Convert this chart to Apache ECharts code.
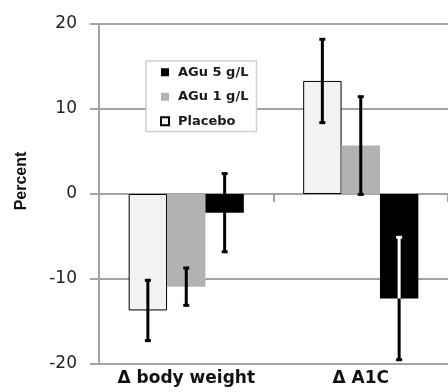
<!DOCTYPE html>
<html>
<head>
<meta charset="utf-8">
<script src="https://cdn.jsdelivr.net/npm/echarts@6/dist/echarts.min.js"></script>
<style>html,body{margin:0;padding:0;background:#fff;}#c{width:448px;height:392px;}</style>
</head>
<body>
<div id="c"></div>
<script>
var categories = ['\u0394 body weight', '\u0394 A1C'];
var seriesNames = ['Placebo', 'AGu 1 g/L', 'AGu 5 g/L'];
var placeboValues = [-13.7, 13.3];
var placeboErrors = [3.55, 4.9];
var agu1Values = [-10.9, 5.7];
var agu1Errors = [2.2, 5.75];
var agu5Values = [-2.2, -12.3];
var agu5Errors = [4.6, 7.2];
var yTicks = [-20, -10, 0, 10, 20];

var values = [placeboValues, agu1Values, agu5Values];
var errors = [placeboErrors, agu1Errors, agu5Errors];
var colors = ['#f2f2f2', '#b2b2b2', '#000000'];
var gray = '#a3a3a3';
var CAT_GAP = 0.34;

var chart = echarts.init(document.getElementById('c'), null, {renderer: 'canvas'});

function makeErr(si) {
  var data = categories.map(function (c, i) {
    return [i, values[si][i] - errors[si][i], values[si][i] + errors[si][i], values[si][i]];
  });
  return {
    type: 'custom',
    name: seriesNames[si] + ' err',
    xAxisIndex: 0,
    yAxisIndex: 0,
    z: 5,
    silent: true,
    tooltip: {show: false},
    data: data,
    renderItem: function (params, api) {
      var ci = api.value(0), lo = api.value(1), hi = api.value(2), v = api.value(3);
      var center = api.coord([ci, 0]);
      var catW = api.size([1, 0])[0];
      var barW = catW * (1 - CAT_GAP) / 3;
      var x = center[0] + (si - 1) * barW;
      var pLo = api.coord([ci, lo])[1];
      var pHi = api.coord([ci, hi])[1];
      var pV = api.coord([ci, v])[1];
      var cap = 3;
      var lw = 3;
      var children = [];
      var black = '#000';
      var innerWhite = (si === 2) && ((v < 0 && hi < 0) || (v > 0 && lo > 0));
      if (innerWhite) {
        var innerEnd = v < 0 ? pHi : pLo;
        var outerEnd = v < 0 ? pLo : pHi;
        children.push({type: 'line', shape: {x1: x, y1: innerEnd, x2: x, y2: pV}, style: {stroke: '#fff', lineWidth: lw}});
        children.push({type: 'line', shape: {x1: x - cap, y1: innerEnd, x2: x + cap, y2: innerEnd}, style: {stroke: '#fff', lineWidth: lw}});
        children.push({type: 'line', shape: {x1: x, y1: pV, x2: x, y2: outerEnd}, style: {stroke: black, lineWidth: lw}});
        children.push({type: 'line', shape: {x1: x - cap, y1: outerEnd, x2: x + cap, y2: outerEnd}, style: {stroke: black, lineWidth: lw}});
      } else {
        children.push({type: 'line', shape: {x1: x, y1: pHi, x2: x, y2: pLo}, style: {stroke: black, lineWidth: lw}});
        children.push({type: 'line', shape: {x1: x - cap, y1: pHi, x2: x + cap, y2: pHi}, style: {stroke: black, lineWidth: lw}});
        children.push({type: 'line', shape: {x1: x - cap, y1: pLo, x2: x + cap, y2: pLo}, style: {stroke: black, lineWidth: lw}});
      }
      return {type: 'group', children: children};
    }
  };
}

var series = [];
for (var s = 0; s < 3; s++) {
  series.push({
    type: 'bar',
    name: seriesNames[s],
    xAxisIndex: 0,
    yAxisIndex: 0,
    data: values[s],
    barGap: '0%',
    barCategoryGap: (CAT_GAP * 100) + '%',
    itemStyle: {
      color: colors[s],
      borderColor: s === 0 ? '#000' : colors[s],
      borderWidth: s === 0 ? 1 : 0
    },
    emphasis: {disabled: true}
  });
}
for (var s2 = 0; s2 < 3; s2++) series.push(makeErr(s2));

chart.setOption({
  animation: false,
  backgroundColor: '#fff',
  textStyle: {fontFamily: '"DejaVu Sans", sans-serif'},
  grid: {left: 99, top: 24, bottom: 28, right: -5, containLabel: false},
  legend: {
    orient: 'vertical',
    left: 146,
    top: 61,
    data: ['AGu 5 g/L', 'AGu 1 g/L', 'Placebo'],
    icon: 'rect',
    itemWidth: 8,
    itemHeight: 8,
    itemGap: 10,
    backgroundColor: '#fff',
    borderColor: '#cfcfcf',
    borderWidth: 1.5,
    borderRadius: 0,
    padding: [4, 8, 3, 14],
    selectedMode: false,
    textStyle: {fontFamily: '"DejaVu Sans", sans-serif', fontWeight: 'bold', fontSize: 13, color: '#1a1a1a', lineHeight: 14.5, padding: [0, 0, 0, 4]}
  },
  xAxis: [{
    type: 'category',
    data: categories,
    position: 'bottom',
    axisLine: {show: false, onZero: false},
    axisTick: {show: false},
    axisLabel: {
      interval: 0,
      hideOverlap: false,
      showMaxLabel: true,
      margin: 6,
      fontFamily: '"DejaVu Sans", sans-serif',
      fontWeight: 'bold',
      fontSize: 17,
      color: '#111'
    },
    splitLine: {show: false}
  }, {
    type: 'category',
    data: categories,
    position: 'top',
    axisLine: {show: true, onZero: true, lineStyle: {color: gray, width: 2}},
    axisTick: {show: true, inside: true, length: 8, lineStyle: {color: gray, width: 2}},
    axisLabel: {show: false},
    splitLine: {show: false}
  }],
  yAxis: {
    type: 'value',
    min: yTicks[0],
    max: yTicks[yTicks.length - 1],
    interval: 10,
    name: 'Percent',
    nameLocation: 'middle',
    nameGap: 69,
    nameTextStyle: {fontFamily: '"Liberation Sans", sans-serif', fontWeight: 'bold', fontSize: 16, color: '#111', padding: [0, 0, 0, 26]},
    axisLine: {show: true, lineStyle: {color: gray, width: 2}},
    axisTick: {show: true, length: 9, lineStyle: {color: gray, width: 2}},
    axisLabel: {margin: 22, fontSize: 17, color: '#222', fontFamily: '"DejaVu Sans", sans-serif'},
    splitLine: {show: true, lineStyle: {color: gray, width: 2}}
  },
  series: series
});
</script>
</body>
</html>
